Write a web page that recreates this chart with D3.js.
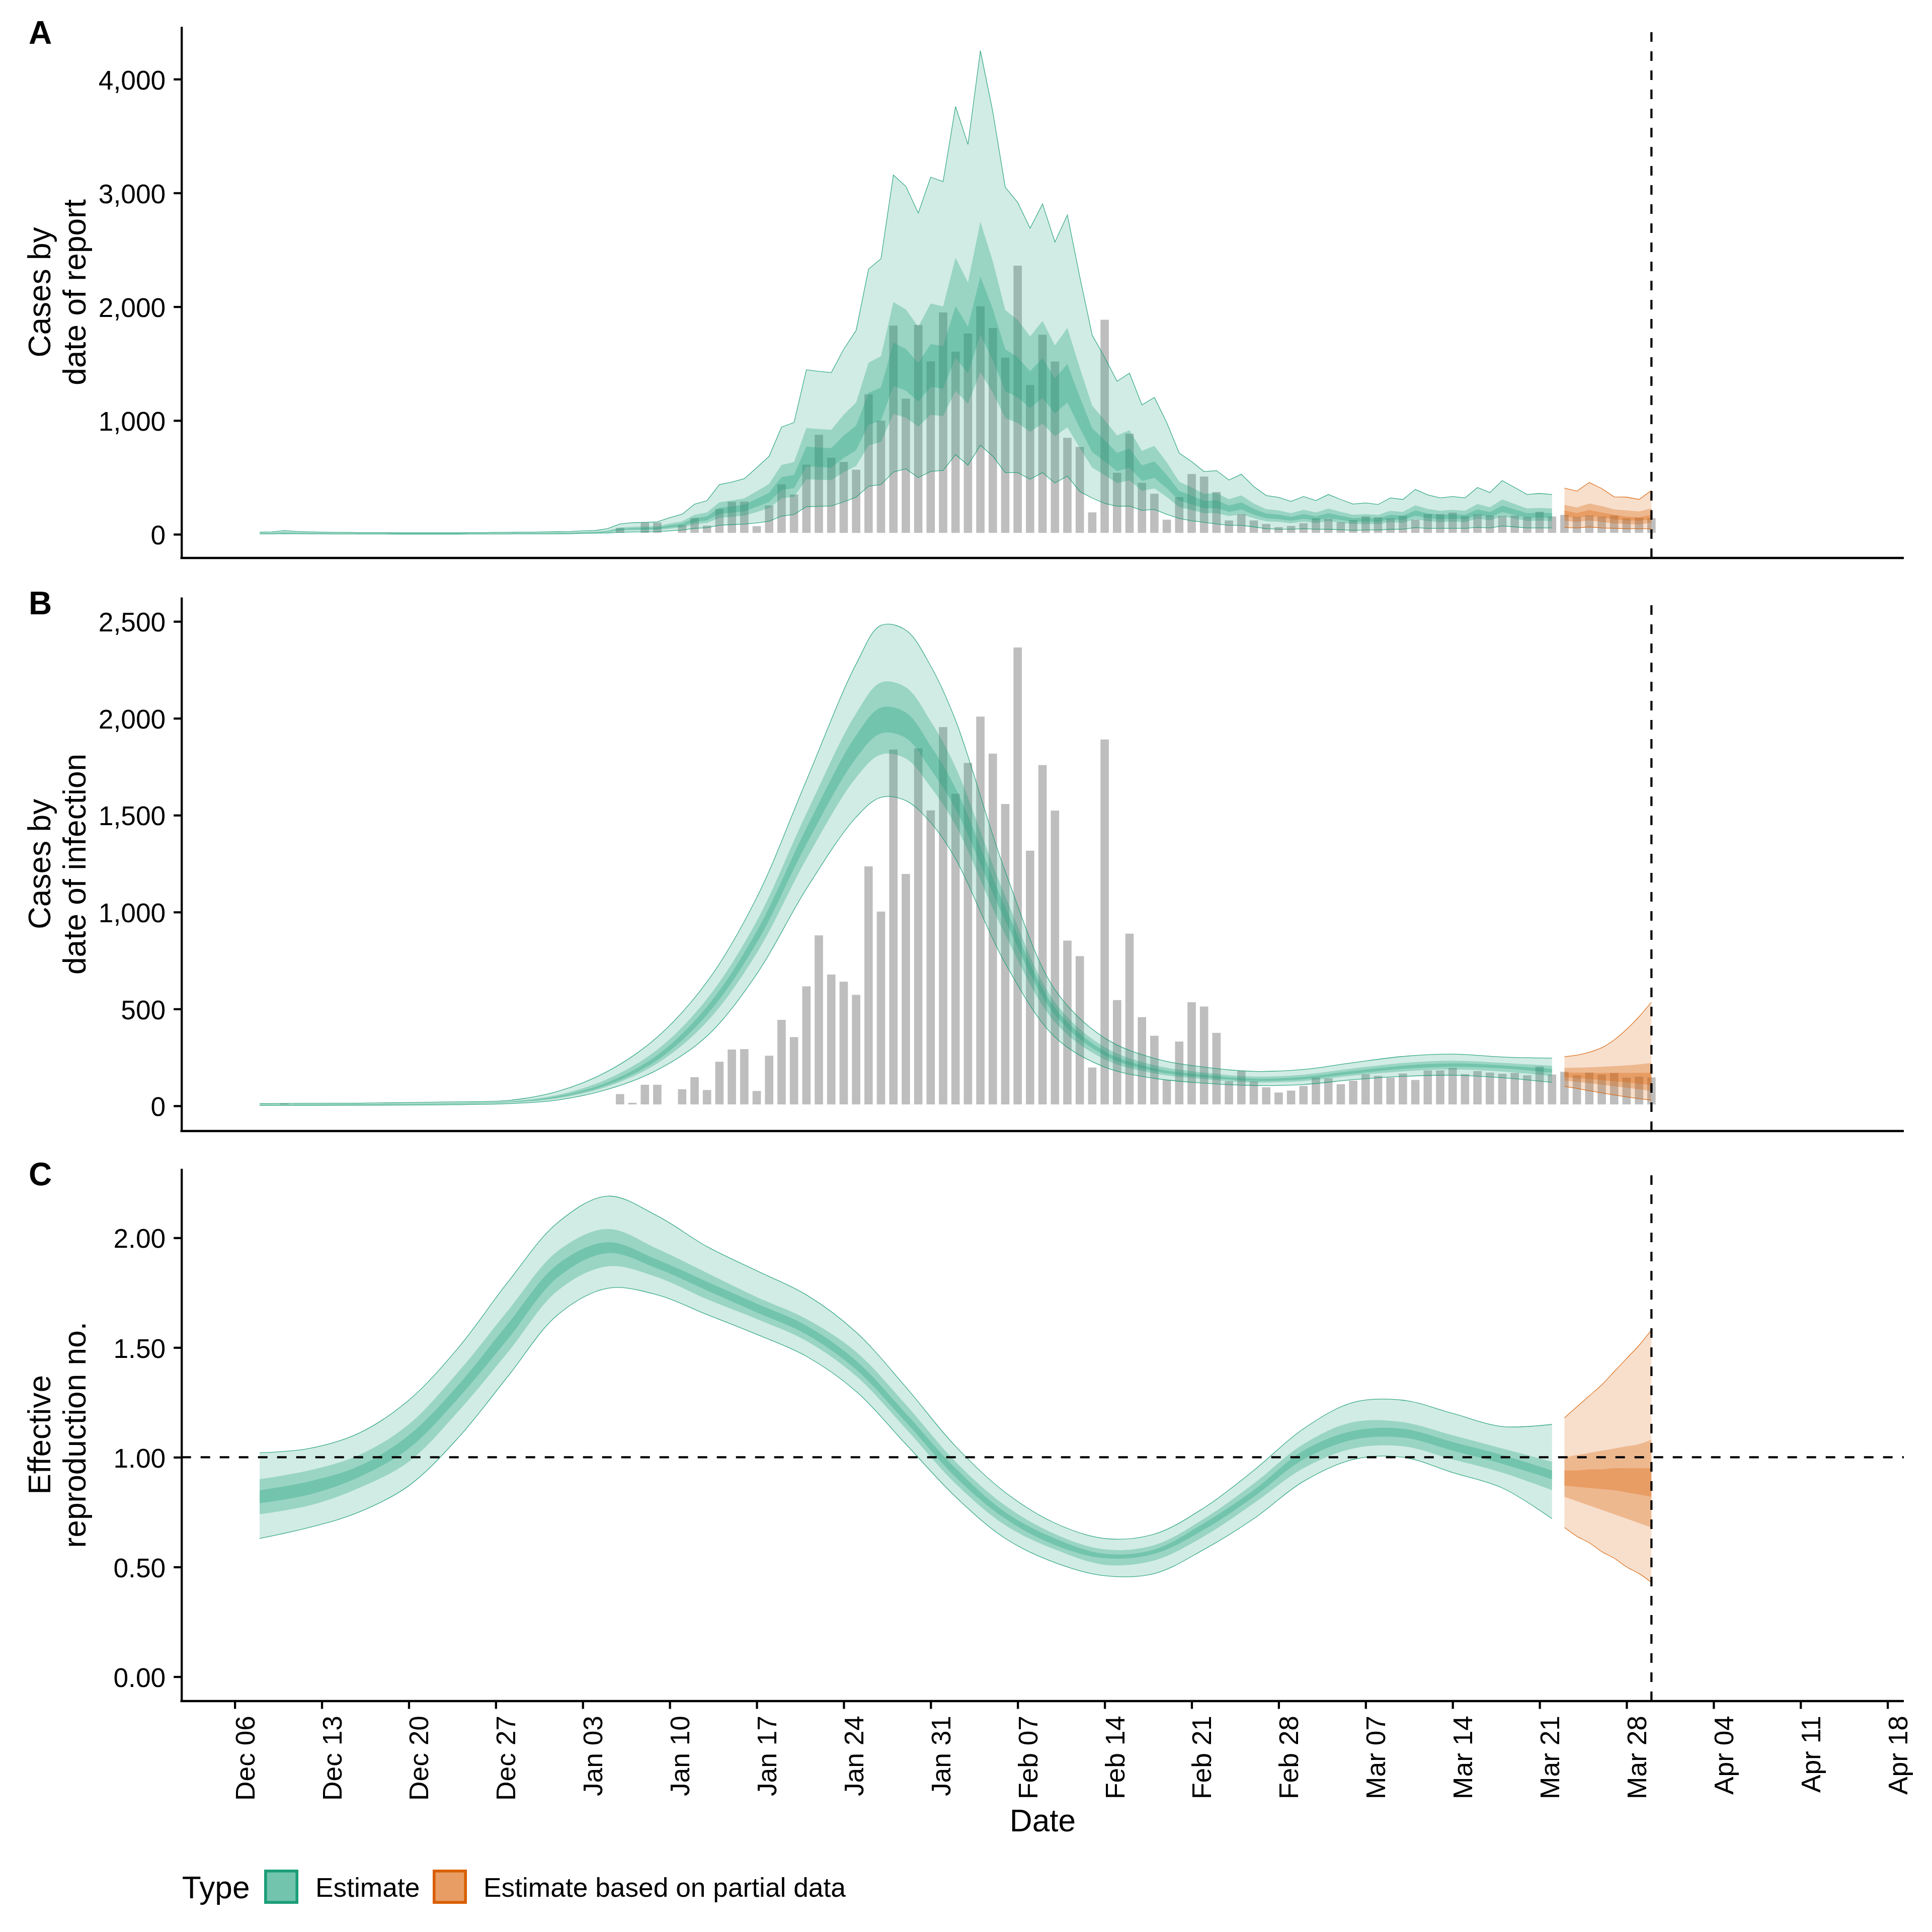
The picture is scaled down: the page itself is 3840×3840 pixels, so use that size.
<!DOCTYPE html>
<html><head><meta charset="utf-8">
<script src="https://cdn.jsdelivr.net/npm/d3@7"></script>
<style>
body{margin:0;background:#fff}
svg{display:block}
text{font-family:"Liberation Sans",Arial,Helvetica,sans-serif;fill:#000}
</style></head>
<body><svg id="chart" width="3840" height="3840"></svg>
<script>
// ---------------- DATA ----------------
const typeNames = ["Estimate", "Estimate based on partial data"];
const typeColors = ["#1B9E77", "#D95F02"];
const panelTags = ["A", "B", "C"];
const panelTitles = [["Cases by", "date of report"], ["Cases by", "date of infection"], ["Effective", "reproduction no."]];
const ticksA = [0, 1000, 2000, 3000, 4000];
const ticksB = [0, 500, 1000, 1500, 2000, 2500];
const ticksC = [0, 0.5, 1, 1.5, 2];
const xTickStart = "2020-12-06", xTickEnd = "2021-04-18";
const lastDataDate = "2021-03-30";

// reported cases, daily 2020-12-08 .. 2021-03-30
const reportedCases = [0,0,20, 0,0,0,0,0,0,0,0,0,0, 0,0,0,0,0,0,0,0,0,0, 9,0,0,0,5,2,
  68,23,116,116,5,93,155,89,235,298,
  300,84,266,451,362,624,887,685,648,580,
  1243,1010,1846,1204,1852,1532,1962,1618,1777,2016,
  1825,1565,2373,1324,1766,1531,860,780,205,1898,
  553,896,465,369,141,339,542,520,384,134,
  189,134,103,76,86,110,153,149,119,137,
  170,162,153,174,141,190,190,203,171,187,
  179,173,177,165,210,169,183,165,179,169,
  177,153,158,154];

// Panel A: cases by date of report, estimate daily 2020-12-08 .. 2021-03-22
const repU90 = [19,21,32,25,21,19,17,17,15,15,15,13,13,13,13,13,13,15,15,17,17,19,19,21,23,25,
  30,33,50,91,102,105,110,146,177,265,
  296,437,459,489,586,686,943,982,1446,1432,
  1421,1626,1792,2331,2422,3158,3058,2823,3138,3100,
  3760,3426,4250,3713,3050,2917,2690,2903,2569,2806,
  2262,1750,1555,1345,1416,1137,1203,980,714,639,
  551,560,477,528,420,341,324,289,332,297,
  350,306,266,276,262,320,306,394,346,320,
  332,320,411,367,472,411,350,359,350];
const repU50 = [12,14,21,16,14,12,11,11,10,10,10,8,8,8,8,8,8,10,10,11,11,12,12,14,15,16,
  19,22,33,59,66,69,71,95,114,171,
  192,282,297,316,378,444,610,634,934,925,
  918,1051,1158,1507,1565,2041,1976,1825,2028,2003,
  2430,2214,2747,2399,1971,1885,1739,1876,1660,1814,
  1462,1130,1004,869,915,734,777,633,462,412,
  356,362,308,341,271,221,210,186,215,192,
  226,197,171,178,170,207,197,255,223,207,
  215,207,266,237,306,266,226,232,226];
const repU20 = [10,11,17,14,11,10,9,9,8,8,8,7,7,7,7,7,7,8,8,9,9,10,10,11,12,14,
  16,18,27,49,54,57,59,78,94,141,
  158,233,245,261,312,366,503,523,771,763,
  757,867,955,1243,1290,1684,1629,1505,1672,1652,
  2005,1826,2266,1979,1626,1555,1434,1547,1370,1496,
  1206,932,828,716,755,606,641,522,381,340,
  294,298,254,281,224,182,173,154,177,158,
  186,163,141,147,140,171,163,210,184,171,
  177,171,219,195,252,219,186,191,186];
const repL20 = [8,9,13,11,9,8,7,7,6,6,6,5,5,5,5,5,5,6,6,7,7,8,8,9,10,11,
  12,14,21,38,42,44,46,60,73,109,
  123,180,190,202,242,284,389,405,597,591,
  586,671,739,963,999,1304,1262,1166,1295,1279,
  1552,1414,1754,1532,1259,1204,1110,1198,1061,1159,
  934,722,641,555,585,469,496,404,295,263,
  228,231,197,218,173,141,134,119,137,123,
  144,126,109,114,109,132,126,163,143,132,
  137,132,170,151,195,170,144,148,144];
const repL50 = [6,7,11,9,7,6,6,6,5,5,5,4,4,4,4,4,4,5,5,6,6,6,6,7,8,9,
  10,11,17,31,34,36,37,49,59,89,
  99,146,154,164,196,230,316,329,484,479,
  476,545,600,781,811,1058,1024,946,1051,1038,
  1260,1147,1424,1243,1022,977,901,972,861,940,
  758,586,520,450,474,381,403,328,239,214,
  185,187,160,177,141,114,109,97,111,99,
  117,102,89,92,88,107,102,132,116,107,
  111,107,138,123,158,138,117,120,117];
const repL90 = [4,4,6,5,4,4,3,3,3,3,3,2,2,2,2,2,2,3,3,3,3,4,4,4,4,5,
  8,10,12,18,20,22,24,30,38,52,
  58,80,85,90,100,115,160,174,243,246,
  249,285,326,423,437,547,575,498,553,561,
  700,608,782,686,542,542,484,542,451,512,
  376,318,271,247,248,210,219,175,140,119,
  105,91,79,79,65,49,45,45,49,45,
  44,40,35,38,38,44,45,59,52,52,
  52,52,61,56,73,65,56,56,56];
// Panel A partial data, daily 2021-03-23 .. 2021-03-30
const repPU90 = [406,380,455,402,329,327,306,385];
const repPU50 = [259,236,271,248,219,210,201,227];
const repPU20 = [210,187,213,192,171,157,149,171];
const repPL20 = [157,143,161,149,131,122,119,131];
const repPL50 = [119,108,122,108,96,91,87,101];
const repPL90 = [60,56,65,56,52,49,49,49];

// Panel B: cases by date of infection
const infDates = ["2020-12-08","2020-12-12","2020-12-16","2020-12-20","2020-12-24","2020-12-28","2021-01-01",
  "2021-01-05","2021-01-09","2021-01-13","2021-01-17","2021-01-21","2021-01-25","2021-01-27","2021-01-29",
  "2021-01-31","2021-02-02","2021-02-06","2021-02-10","2021-02-14","2021-02-18","2021-02-22","2021-02-26",
  "2021-03-02","2021-03-06","2021-03-10","2021-03-14","2021-03-18","2021-03-22"];
const infU90 = [12,13,14,17,21,28,75,178,355,640,1075,1680,2280,2480,2455,2270,1990,1210,600,350,245,200,178,188,223,255,267,252,246];
const infU50 = [8,9,10,12,16,23,57,139,290,552,954,1509,2025,2185,2160,1985,1748,1083,535,303,210,172,151,161,193,221,233,222,207];
const infU20 = [6,7,8,10,13,21,50,122,262,512,901,1434,1912,2055,2030,1858,1640,1027,507,282,194,160,140,149,180,207,219,209,190];
const infL20 = [5,5,6,8,11,19,43,108,236,470,841,1350,1794,1922,1898,1736,1532,956,470,260,179,148,129,137,166,191,202,193,171];
const infL50 = [4,4,5,7,9,16,39,100,219,434,788,1274,1694,1813,1792,1645,1448,883,432,240,167,138,121,128,156,178,188,177,154];
const infL90 = [2,2,3,4,6,11,30,85,185,360,680,1120,1490,1592,1575,1462,1275,735,355,200,142,117,105,110,135,152,158,145,121];
const partialDates = ["2021-03-23","2021-03-24","2021-03-25","2021-03-26","2021-03-27","2021-03-28","2021-03-29","2021-03-30"];
const infPU90 = [254,262,277,300,340,395,460,535];
const infPU50 = [195,197,199,202,205,209,214,221];
const infPU20 = [172,171,170,170,170,170,170,171];
const infPL20 = [148,143,138,133,127,121,114,107];
const infPL50 = [130,124,117,109,101,93,85,76];
const infPL90 = [100,90,78,67,56,46,37,29];

// Panel C: effective reproduction number
const rtDates = ["2020-12-08","2020-12-12","2020-12-16","2020-12-20","2020-12-24","2020-12-28","2021-01-01",
  "2021-01-05","2021-01-09","2021-01-13","2021-01-17","2021-01-21","2021-01-25","2021-01-29",
  "2021-02-02","2021-02-06","2021-02-10","2021-02-14","2021-02-18","2021-02-22","2021-02-26",
  "2021-03-02","2021-03-06","2021-03-10","2021-03-14","2021-03-18","2021-03-22"];
const rtU90 = [1.02,1.04,1.11,1.26,1.50,1.80,2.07,2.19,2.10,1.96,1.85,1.74,1.57,1.32,1.05,0.84,0.70,0.63,0.65,0.77,0.94,1.13,1.25,1.26,1.20,1.14,1.15];
const rtU50 = [0.90,0.94,1.01,1.15,1.39,1.67,1.94,2.04,1.95,1.84,1.73,1.63,1.48,1.24,0.98,0.78,0.65,0.58,0.60,0.72,0.88,1.06,1.16,1.16,1.10,1.04,0.98];
const rtU20 = [0.85,0.89,0.96,1.10,1.33,1.61,1.88,1.98,1.90,1.80,1.70,1.60,1.44,1.20,0.95,0.75,0.63,0.56,0.58,0.70,0.85,1.03,1.12,1.13,1.07,1.01,0.94];
const rtL20 = [0.79,0.83,0.91,1.04,1.27,1.54,1.82,1.93,1.86,1.76,1.66,1.56,1.40,1.16,0.91,0.72,0.60,0.54,0.56,0.67,0.82,0.99,1.08,1.09,1.03,0.97,0.90];
const rtL50 = [0.74,0.78,0.86,0.98,1.21,1.48,1.76,1.87,1.82,1.72,1.63,1.53,1.37,1.13,0.88,0.69,0.58,0.51,0.53,0.64,0.79,0.95,1.04,1.05,0.99,0.93,0.85];
const rtL90 = [0.63,0.68,0.75,0.87,1.09,1.37,1.65,1.77,1.74,1.65,1.56,1.46,1.30,1.06,0.82,0.63,0.52,0.46,0.47,0.58,0.72,0.89,0.99,1.00,0.93,0.86,0.72];
const rtPU90 = [1.18,1.23,1.28,1.33,1.39,1.45,1.51,1.58];
const rtPU50 = [1.00,1.01,1.02,1.03,1.04,1.05,1.06,1.08];
const rtPU20 = [0.94,0.94,0.945,0.945,0.95,0.95,0.95,0.95];
const rtPL20 = [0.87,0.865,0.86,0.855,0.85,0.84,0.83,0.82];
const rtPL50 = [0.82,0.80,0.78,0.76,0.74,0.72,0.70,0.68];
const rtPL90 = [0.68,0.64,0.61,0.57,0.54,0.50,0.47,0.43];

// ---------------- DRAWING ----------------
const parse = d3.utcParse("%Y-%m-%d");
const DAY = 864e5;
const origin = parse(xTickStart);
const svg = d3.select("#chart");
svg.append("rect").attr("width", 3840).attr("height", 3840).attr("fill", "#fff");

const x = d3.scaleUtc()
  .domain([new Date(+origin - 4.29 * DAY), new Date(+origin + 134.31 * DAY)])
  .range([360.7, 3784]);

const LW = 4.3;
const estDaily = d3.utcDay.range(parse("2020-12-08"), parse("2021-03-23"));
const barDates = d3.utcDay.range(parse("2020-12-08"), parse("2021-03-31"));
const pDates = partialDates.map(parse);
const smooth = d3.curveCatmullRom.alpha(0.5);

const panels = [
  {top: 52.8, bottom: 1109, domain: [-208, 4462], ticks: ticksA, fmt: d3.format(","), bars: true, curve: d3.curveLinear,
   est: {dates: estDaily, b: [[repL90, repU90], [repL50, repU50], [repL20, repU20]]},
   part: {dates: pDates, b: [[repPL90, repPU90], [repPL50, repPU50], [repPL20, repPU20]]}},
  {top: 1187, bottom: 2248, domain: [-130, 2625], ticks: ticksB, fmt: d3.format(","), bars: true, curve: smooth,
   est: {dates: infDates.map(parse), b: [[infL90, infU90], [infL50, infU50], [infL20, infU20]]},
   part: {dates: pDates, b: [[infPL90, infPU90], [infPL50, infPU50], [infPL20, infPU20]]}},
  {top: 2322.4, bottom: 3381, domain: [-0.111, 2.316], ticks: ticksC, fmt: d3.format(".2f"), bars: false, curve: smooth,
   est: {dates: rtDates.map(parse), b: [[rtL90, rtU90], [rtL50, rtU50], [rtL20, rtU20]]},
   part: {dates: pDates, b: [[rtPL90, rtPU90], [rtPL50, rtPU50], [rtPL20, rtPU20]]}}
];
const alphas = [0.2, 0.3, 0.3];

panels.forEach((p, pi) => {
  const y = d3.scaleLinear().domain(p.domain).range([p.bottom, p.top]);
  const g = svg.append("g");
  if (p.bars) {
    const bw = 0.9 * (x(new Date(+origin + DAY)) - x(origin));
    g.append("g").selectAll("rect")
      .data(barDates.map((d, i) => ({date: d, v: reportedCases[i]})).filter(d => d.v > 0))
      .join("rect")
      .attr("x", d => x(d.date) - bw / 2)
      .attr("width", bw)
      .attr("y", d => y(d.v))
      .attr("height", d => y(0) - y(d.v))
      .attr("fill", "#BEBEBE")
      .attr("stroke", "#fff")
      .attr("stroke-width", 5.6);
  }
  [p.est, p.part].forEach((s, si) => {
    const col = typeColors[si];
    s.b.forEach((pair, bi) => {
      const rows = s.dates.map((d, i) => ({date: d, lo: pair[0][i], hi: pair[1][i]}));
      const area = d3.area().curve(p.curve).x(d => x(d.date)).y0(d => y(d.lo)).y1(d => y(d.hi));
      g.append("path").attr("d", area(rows)).attr("fill", col).attr("fill-opacity", alphas[bi]).attr("stroke", "none");
      if (bi === 0) {
        ["lo", "hi"].forEach(k => {
          const line = d3.line().curve(p.curve).x(d => x(d.date)).y(d => y(d[k]));
          g.append("path").attr("d", line(rows)).attr("fill", "none").attr("stroke", col)
            .attr("stroke-width", 1.3).attr("stroke-opacity", 0.85);
        });
      }
    });
  });
  // dashed lines
  const xl = x(parse(lastDataDate));
  g.append("line").attr("x1", xl).attr("x2", xl).attr("y1", p.bottom).attr("y2", p.top)
    .attr("stroke", "#000").attr("stroke-width", LW).attr("stroke-dasharray", "19,19");
  if (pi === 2) {
    g.append("line").attr("x1", 360.7).attr("x2", 3784).attr("y1", y(1)).attr("y2", y(1))
      .attr("stroke", "#000").attr("stroke-width", LW).attr("stroke-dasharray", "19,19");
  }
  // y axis
  const ya = svg.append("g").attr("transform", "translate(360.7,0)")
    .call(d3.axisLeft(y).tickValues(p.ticks).tickFormat(p.fmt).tickSize(15.5).tickSizeOuter(0).tickPadding(16));
  ya.select(".domain").attr("stroke", "#000").attr("stroke-width", LW);
  ya.selectAll(".tick line").attr("stroke", "#000").attr("stroke-width", LW);
  ya.selectAll(".tick text").attr("font-size", 53.3).attr("dy", "0.37em")
    .attr("font-family", '"Liberation Sans",Arial,sans-serif').attr("fill", "#000");
  // x axis line
  svg.append("line").attr("x1", 360.7 - LW / 2).attr("x2", 3784).attr("y1", p.bottom).attr("y2", p.bottom)
    .attr("stroke", "#000").attr("stroke-width", LW);
  // tag
  svg.append("text").attr("x", 57).attr("y", p.top + 34).attr("font-size", 64).attr("font-weight", "bold")
    .text(panelTags[pi]);
  // y title
  const cy = (p.top + p.bottom) / 2;
  panelTitles[pi].forEach((t, li) => {
    svg.append("text").attr("transform", `translate(${100 + li * 70},${cy}) rotate(-90)`)
      .attr("text-anchor", "middle").attr("font-size", 62.2).text(t);
  });
  if (pi === 2) {
    const xticks = d3.utcWeek.range(parse(xTickStart), new Date(+parse(xTickEnd) + DAY));
    const xa = svg.append("g").attr("transform", `translate(0,${p.bottom})`)
      .call(d3.axisBottom(x).tickValues(xticks).tickFormat(d3.utcFormat("%b %d")).tickSize(15.5).tickSizeOuter(0));
    xa.select(".domain").remove();
    xa.selectAll(".tick line").attr("stroke", "#000").attr("stroke-width", LW);
    xa.selectAll(".tick text").attr("font-size", 53.3).attr("transform", "rotate(-90)")
      .attr("text-anchor", "end").attr("x", -29).attr("y", 38.5).attr("dy", 0)
      .attr("font-family", '"Liberation Sans",Arial,sans-serif').attr("fill", "#000");
  }
});

svg.append("text").attr("x", 2072.4).attr("y", 3640).attr("text-anchor", "middle").attr("font-size", 62.2).text("Date");

// legend
svg.append("text").attr("x", 361.7).attr("y", 3773).attr("font-size", 62.2).text("Type");
const keyX = [525, 860], labX = [627, 961];
typeNames.forEach((n, i) => {
  const kg = svg.append("g");
  alphas.forEach(a => kg.append("rect").attr("x", keyX[i]).attr("y", 3716).attr("width", 68).attr("height", 68)
    .attr("fill", typeColors[i]).attr("fill-opacity", a));
  kg.append("rect").attr("x", keyX[i] + 2.8).attr("y", 3716 + 2.8).attr("width", 62.4).attr("height", 62.4)
    .attr("fill", "none").attr("stroke", typeColors[i]).attr("stroke-width", 5.6);
  svg.append("text").attr("x", labX[i]).attr("y", 3770).attr("font-size", 53.3).text(n);
});
</script>
</body></html>
